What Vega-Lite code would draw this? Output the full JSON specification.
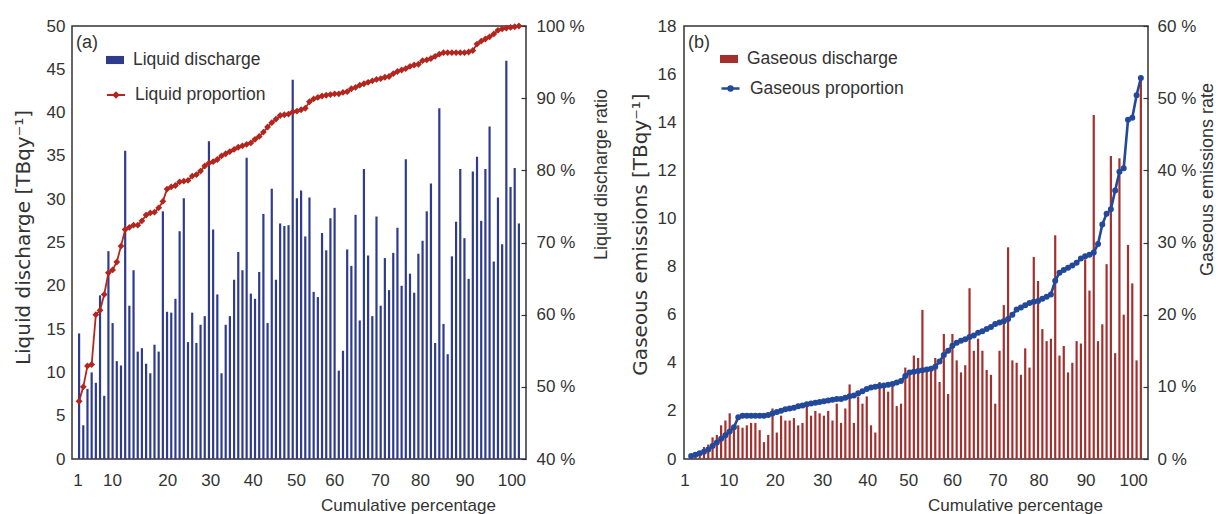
{
  "$schema": "https://vega.github.io/schema/vega-lite/v6.json",
  "padding": {"left": 12, "top": 16, "right": 0, "bottom": 0},
  "autosize": {"type": "pad"},
  "background": "white",
  "config": {
    "font": "Liberation Sans",
    "view": {"stroke": "#333333", "strokeWidth": 1.5},
    "axis": {"labelFontSize": 17, "titleFontSize": 17, "labelColor": "#333333", "titleColor": "#333333", "titleFontWeight": "normal", "grid": false, "domain": false, "ticks": false, "labelFont": "Liberation Sans", "titleFont": "Liberation Sans", "tickColor": "#333333", "tickWidth": 1.2},
    "legend": {"orient": "none", "labelFontSize": 17.5, "labelColor": "#333333", "padding": 0, "labelOffset": 9, "labelFont": "Liberation Sans"},
    "title": {"fontSize": 18, "fontWeight": "normal", "color": "#333333", "font": "Liberation Sans"}
  },
  "datasets": {
    "liquid": [
      {"i":1,"v":14.5,"p":48.0},{"i":2,"v":3.9,"p":50.0},{"i":3,"v":8.1,"p":52.9},{"i":4,"v":10.0,"p":53.1},{"i":5,"v":8.8,"p":60.0},
      {"i":6,"v":18.9,"p":60.6},{"i":7,"v":7.3,"p":62.8},{"i":8,"v":24.0,"p":65.8},{"i":9,"v":15.7,"p":66.2},{"i":10,"v":11.3,"p":67.3},
      {"i":11,"v":10.8,"p":69.5},{"i":12,"v":35.6,"p":71.8},{"i":13,"v":17.7,"p":72.1},{"i":14,"v":21.8,"p":72.4},{"i":15,"v":12.4,"p":72.4},
      {"i":16,"v":12.8,"p":73.0},{"i":17,"v":11.0,"p":73.8},{"i":18,"v":9.9,"p":74.1},{"i":19,"v":13.2,"p":74.2},{"i":20,"v":12.4,"p":74.8},
      {"i":21,"v":28.6,"p":75.7},{"i":22,"v":17.0,"p":77.4},{"i":23,"v":16.9,"p":77.7},{"i":24,"v":18.5,"p":77.9},{"i":25,"v":26.3,"p":78.4},
      {"i":26,"v":30.1,"p":78.5},{"i":27,"v":13.5,"p":78.6},{"i":28,"v":16.9,"p":79.2},{"i":29,"v":13.4,"p":79.4},{"i":30,"v":15.5,"p":79.9},
      {"i":31,"v":16.5,"p":80.6},{"i":32,"v":36.7,"p":81.0},{"i":33,"v":26.5,"p":81.2},{"i":34,"v":19.0,"p":81.5},{"i":35,"v":9.9,"p":82.0},
      {"i":36,"v":15.5,"p":82.3},{"i":37,"v":16.5,"p":82.6},{"i":38,"v":20.7,"p":82.9},{"i":39,"v":23.9,"p":83.2},{"i":40,"v":21.8,"p":83.4},
      {"i":41,"v":34.8,"p":83.6},{"i":42,"v":19.1,"p":83.8},{"i":43,"v":18.5,"p":84.3},{"i":44,"v":21.6,"p":84.7},{"i":45,"v":28.3,"p":85.3},
      {"i":46,"v":15.7,"p":86.0},{"i":47,"v":31.2,"p":86.6},{"i":48,"v":20.7,"p":87.1},{"i":49,"v":27.2,"p":87.6},{"i":50,"v":26.9,"p":87.7},
      {"i":51,"v":27.0,"p":87.8},{"i":52,"v":43.8,"p":88.1},{"i":53,"v":30.1,"p":88.2},{"i":54,"v":31.0,"p":88.4},{"i":55,"v":25.7,"p":88.6},
      {"i":56,"v":30.2,"p":89.5},{"i":57,"v":19.3,"p":89.9},{"i":58,"v":18.7,"p":90.1},{"i":59,"v":26.1,"p":90.3},{"i":60,"v":24.1,"p":90.4},
      {"i":61,"v":27.8,"p":90.5},{"i":62,"v":29.0,"p":90.6},{"i":63,"v":10.2,"p":90.6},{"i":64,"v":12.5,"p":90.8},{"i":65,"v":24.2,"p":90.9},
      {"i":66,"v":22.3,"p":91.3},{"i":67,"v":28.2,"p":91.5},{"i":68,"v":16.0,"p":91.8},{"i":69,"v":33.5,"p":92.0},{"i":70,"v":23.5,"p":92.2},
      {"i":71,"v":16.5,"p":92.4},{"i":72,"v":28.0,"p":92.6},{"i":73,"v":17.7,"p":92.7},{"i":74,"v":23.2,"p":92.9},{"i":75,"v":19.5,"p":93.0},
      {"i":76,"v":23.8,"p":93.4},{"i":77,"v":26.7,"p":93.7},{"i":78,"v":20.0,"p":93.9},{"i":79,"v":34.6,"p":94.1},{"i":80,"v":21.4,"p":94.4},
      {"i":81,"v":19.2,"p":94.6},{"i":82,"v":23.7,"p":94.7},{"i":83,"v":25.2,"p":95.2},{"i":84,"v":28.6,"p":95.3},{"i":85,"v":31.8,"p":95.5},
      {"i":86,"v":13.4,"p":95.8},{"i":87,"v":40.5,"p":96.1},{"i":88,"v":15.6,"p":96.3},{"i":89,"v":12.1,"p":96.3},{"i":90,"v":23.4,"p":96.3},
      {"i":91,"v":27.4,"p":96.3},{"i":92,"v":33.5,"p":96.3},{"i":93,"v":25.5,"p":96.3},{"i":94,"v":20.8,"p":96.4},{"i":95,"v":33.2,"p":96.6},
      {"i":96,"v":34.9,"p":97.5},{"i":97,"v":27.5,"p":97.9},{"i":98,"v":33.5,"p":98.2},{"i":99,"v":38.4,"p":98.5},{"i":100,"v":22.8,"p":98.9},
      {"i":101,"v":30.2,"p":99.4},{"i":102,"v":24.8,"p":99.6},{"i":103,"v":46.0,"p":99.7},{"i":104,"v":31.4,"p":99.8},{"i":105,"v":33.6,"p":99.9},
      {"i":106,"v":27.2,"p":100.0}
    ],
    "gas": [
      {"i":1,"v":0.1,"p":0.4},{"i":2,"v":0.15,"p":0.6},{"i":3,"v":0.3,"p":0.8},{"i":4,"v":0.5,"p":1.0},{"i":5,"v":0.6,"p":1.3},
      {"i":6,"v":0.9,"p":1.8},{"i":7,"v":1.0,"p":2.3},{"i":8,"v":1.4,"p":2.8},{"i":9,"v":1.6,"p":3.3},{"i":10,"v":1.9,"p":3.8},
      {"i":11,"v":1.4,"p":4.4},{"i":12,"v":1.4,"p":5.8},{"i":13,"v":1.3,"p":6.0},{"i":14,"v":1.4,"p":6.0},{"i":15,"v":1.5,"p":6.0},
      {"i":16,"v":1.5,"p":6.0},{"i":17,"v":1.2,"p":6.0},{"i":18,"v":0.7,"p":6.0},{"i":19,"v":1.0,"p":6.1},{"i":20,"v":2.1,"p":6.3},
      {"i":21,"v":1.1,"p":6.5},{"i":22,"v":1.8,"p":6.7},{"i":23,"v":1.6,"p":6.9},{"i":24,"v":1.6,"p":7.0},{"i":25,"v":1.7,"p":7.1},
      {"i":26,"v":1.4,"p":7.3},{"i":27,"v":1.5,"p":7.4},{"i":28,"v":2.2,"p":7.6},{"i":29,"v":1.8,"p":7.7},{"i":30,"v":2.0,"p":7.8},
      {"i":31,"v":1.9,"p":7.9},{"i":32,"v":1.8,"p":8.0},{"i":33,"v":2.0,"p":8.1},{"i":34,"v":1.6,"p":8.2},{"i":35,"v":2.3,"p":8.3},
      {"i":36,"v":1.5,"p":8.3},{"i":37,"v":2.1,"p":8.5},{"i":38,"v":3.1,"p":8.7},{"i":39,"v":1.5,"p":8.8},{"i":40,"v":2.6,"p":9.1},
      {"i":41,"v":2.3,"p":9.4},{"i":42,"v":2.6,"p":9.7},{"i":43,"v":1.4,"p":9.9},{"i":44,"v":1.1,"p":10.0},{"i":45,"v":3.2,"p":10.1},
      {"i":46,"v":3.1,"p":10.2},{"i":47,"v":2.8,"p":10.3},{"i":48,"v":3.0,"p":10.4},{"i":49,"v":2.2,"p":10.6},{"i":50,"v":2.3,"p":10.8},
      {"i":51,"v":3.8,"p":11.5},{"i":52,"v":3.7,"p":12.0},{"i":53,"v":4.3,"p":12.1},{"i":54,"v":4.2,"p":12.2},{"i":55,"v":6.2,"p":12.3},
      {"i":56,"v":3.7,"p":12.4},{"i":57,"v":3.8,"p":12.5},{"i":58,"v":4.2,"p":12.8},{"i":59,"v":3.2,"p":13.5},{"i":60,"v":5.2,"p":14.4},
      {"i":61,"v":2.7,"p":15.0},{"i":62,"v":5.2,"p":15.7},{"i":63,"v":4.1,"p":16.1},{"i":64,"v":3.6,"p":16.4},{"i":65,"v":3.9,"p":16.6},
      {"i":66,"v":7.1,"p":16.9},{"i":67,"v":4.5,"p":17.1},{"i":68,"v":5.0,"p":17.5},{"i":69,"v":4.5,"p":17.7},{"i":70,"v":3.7,"p":18.0},
      {"i":71,"v":3.5,"p":18.3},{"i":72,"v":2.3,"p":18.7},{"i":73,"v":4.5,"p":18.9},{"i":74,"v":6.4,"p":19.1},{"i":75,"v":8.8,"p":19.4},
      {"i":76,"v":4.1,"p":20.0},{"i":77,"v":4.0,"p":20.7},{"i":78,"v":3.5,"p":21.0},{"i":79,"v":4.6,"p":21.3},{"i":80,"v":3.8,"p":21.6},
      {"i":81,"v":8.4,"p":21.8},{"i":82,"v":7.4,"p":21.9},{"i":83,"v":5.4,"p":22.2},{"i":84,"v":4.9,"p":22.5},{"i":85,"v":5.0,"p":22.8},
      {"i":86,"v":9.3,"p":24.7},{"i":87,"v":4.3,"p":25.8},{"i":88,"v":4.7,"p":26.2},{"i":89,"v":3.6,"p":26.5},{"i":90,"v":4.0,"p":26.8},
      {"i":91,"v":4.9,"p":27.2},{"i":92,"v":4.8,"p":27.8},{"i":93,"v":8.3,"p":28.1},{"i":94,"v":7.0,"p":28.3},{"i":95,"v":14.3,"p":28.6},
      {"i":96,"v":4.9,"p":29.8},{"i":97,"v":5.6,"p":32.5},{"i":98,"v":8.1,"p":34.0},{"i":99,"v":12.6,"p":34.6},{"i":100,"v":4.4,"p":37.2},
      {"i":101,"v":12.5,"p":39.8},{"i":102,"v":6.0,"p":40.3},{"i":103,"v":8.9,"p":47.0},{"i":104,"v":7.3,"p":47.3},{"i":105,"v":4.1,"p":50.4},
      {"i":106,"v":15.9,"p":52.8}
    ]
  },
  "hconcat": [
    {
      "width": 454,
      "height": 433,
      "title": {"text": "(a)", "anchor": "start", "offset": -35, "dx": 4, "frame": "group"},
      "data": {"name": "liquid"},
      "layer": [
        {
          "mark": {"type": "bar", "size": 2.2},
          "encoding": {
            "x": {"field": "i", "type": "quantitative", "scale": {"domain": [0.5, 106.5], "nice": false, "zero": false},
              "axis": {"values": [0.6, 8.84, 22.05, 32.32, 42.46, 52.8, 61.9, 72.8, 82.4, 93.0, 104.2],
                "labelExpr": "['1','10','20','30','40','50','60','70','80','90','100'][indexof([0.6, 8.84, 22.05, 32.32, 42.46, 52.8, 61.9, 72.8, 82.4, 93.0, 104.2], datum.value)]",
                "labelFlush": false, "labelOverlap": false, "labelPadding": 13, "title": "Cumulative percentage", "titleX": 336, "titleY": 51, "titleBaseline": "alphabetic"}},
            "y": {"field": "v", "type": "quantitative", "scale": {"domain": [0, 50], "nice": false},
              "axis": {"values": [0,5,10,15,20,25,30,35,40,45,50], "labelPadding": 7, "title": "Liquid discharge [TBqy⁻¹]", "titleFont": "DejaVu Sans", "titleFontSize": 20, "titleX": -49, "titleY": 211, "titleBaseline": "middle", "titleAngle": 270}},
            "fill": {"datum": "Liquid discharge", "scale": {"range": ["#2f3c8e"]},
              "legend": {"title": null, "legendX": 34, "legendY": 25, "symbolType": "M-1,-0.45H1V0.45H-1Z", "symbolSize": 324, "symbolStrokeWidth": 0}}
          }
        },
        {
          "mark": {"type": "line", "strokeWidth": 1.8, "point": {"filled": true, "shape": "diamond", "size": 16, "fill": "#b3261e"}},
          "encoding": {
            "x": {"field": "i", "type": "quantitative"},
            "y": {"field": "p", "type": "quantitative", "scale": {"domain": [40, 100], "nice": false, "zero": false},
              "axis": {"orient": "right", "values": [40,50,60,70,80,90,100], "labelExpr": "datum.value + ' %'", "ticks": true, "tickSize": -5, "labelPadding": 15, "title": "Liquid discharge ratio", "titleFontSize": 18, "titleX": 75, "titleY": 148, "titleBaseline": "middle", "titleAngle": 270}},
            "stroke": {"datum": "Liquid proportion", "scale": {"range": ["#b3261e"]},
              "legend": {"title": null, "legendX": 34, "legendY": 59, "symbolType": "M-1,0H1M-0.28,0L0,-0.28L0.28,0L0,0.28Z", "symbolSize": 324, "symbolStrokeWidth": 1.8,
                "encode": {"symbols": {"update": {"fill": {"value": "#b3261e"}}}}}}
          }
        }
      ],
      "resolve": {"scale": {"y": "independent", "fill": "independent", "stroke": "independent"}}
    },
    {
      "width": 464,
      "height": 433,
      "title": {"text": "(b)", "anchor": "start", "offset": -35, "dx": 4, "frame": "group"},
      "data": {"name": "gas"},
      "layer": [
        {
          "mark": {"type": "bar", "size": 2.2},
          "encoding": {
            "x": {"field": "i", "type": "quantitative", "scale": {"domain": [0.5, 106.5], "nice": false, "zero": false},
              "axis": {"values": [-0.57, 9.7, 20.5, 31.6, 42.1, 51.7, 61.9, 72.5, 82.1, 93.1, 104.2],
                "labelExpr": "['1','10','20','30','40','50','60','70','80','90','100'][indexof([-0.57, 9.7, 20.5, 31.6, 42.1, 51.7, 61.9, 72.5, 82.1, 93.1, 104.2], datum.value)]",
                "labelFlush": false, "labelOverlap": false, "labelPadding": 13, "title": "Cumulative percentage", "titleX": 331, "titleY": 51, "titleBaseline": "alphabetic"}},
            "y": {"field": "v", "type": "quantitative", "scale": {"domain": [0, 18], "nice": false},
              "axis": {"values": [0,2,4,6,8,10,12,14,16,18], "labelPadding": 8, "title": "Gaseous emissions [TBqy⁻¹]", "titleFont": "DejaVu Sans", "titleFontSize": 20, "titleX": -44, "titleY": 208, "titleBaseline": "middle", "titleAngle": 270}},
            "fill": {"datum": "Gaseous discharge", "scale": {"range": ["#a3302f"]},
              "legend": {"title": null, "legendX": 36, "legendY": 24, "symbolType": "M-1,-0.45H1V0.45H-1Z", "symbolSize": 324, "symbolStrokeWidth": 0}}
          }
        },
        {
          "mark": {"type": "line", "strokeWidth": 2.6, "point": {"filled": true, "shape": "circle", "size": 16, "fill": "#23499b"}},
          "encoding": {
            "x": {"field": "i", "type": "quantitative"},
            "y": {"field": "p", "type": "quantitative", "scale": {"domain": [0, 60], "nice": false},
              "axis": {"orient": "right", "values": [0,10,20,30,40,50,60], "labelExpr": "datum.value + ' %'", "ticks": true, "tickSize": -5, "labelPadding": 14, "title": "Gaseous emissions rate", "titleFontSize": 18, "titleX": 59, "titleY": 153, "titleBaseline": "middle", "titleAngle": 270}},
            "stroke": {"datum": "Gaseous proportion", "scale": {"range": ["#23499b"]},
              "legend": {"title": null, "legendX": 36, "legendY": 52, "symbolType": "M-1,0H1M-0.22,0A0.22,0.22,0,1,1,0.22,0A0.22,0.22,0,1,1,-0.22,0Z", "symbolSize": 324, "symbolStrokeWidth": 2.4,
                "encode": {"symbols": {"update": {"fill": {"value": "#23499b"}}}}}}
          }
        }
      ],
      "resolve": {"scale": {"y": "independent", "fill": "independent", "stroke": "independent"}}
    }
  ],
  "spacing": 158,
  "bounds": "flush"
}
